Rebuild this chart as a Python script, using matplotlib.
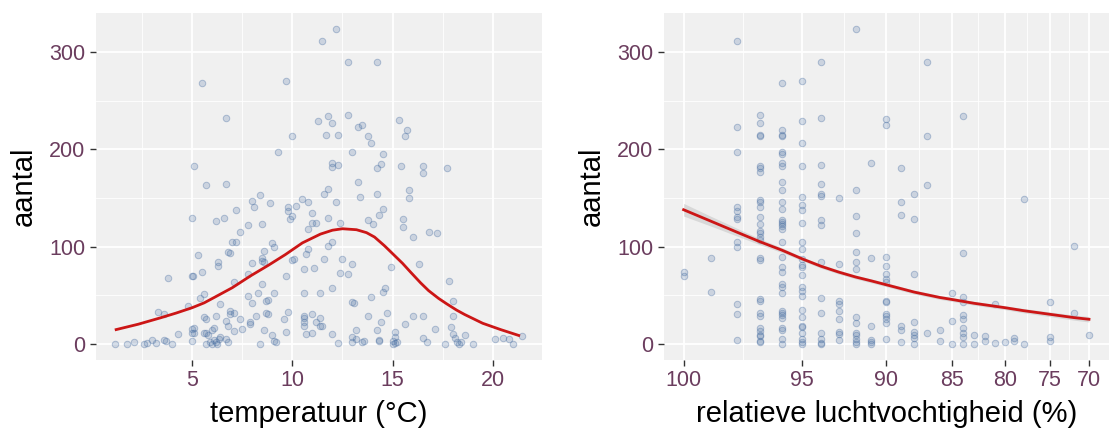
import numpy as np
import matplotlib
matplotlib.use("Agg")
import matplotlib.pyplot as plt
from matplotlib.ticker import FixedLocator

plt.rcParams['font.family'] = ['Liberation Sans', 'DejaVu Sans']

# --- linker paneel: temperatuur ---
temperatuur = [
    12.2, 11.5, 12.8, 14.2, 5.5, 9.7, 6.7, 11.3, 11.8, 12.0,
    12.8, 15.3, 15.7, 15.6, 13.3, 13.5, 11.7, 12.3, 13.8, 13.9,
    10.0, 9.3, 13.0, 14.5, 5.1, 12.0, 12.3, 12.0, 14.2, 14.4,
    15.4, 16.5, 16.5, 17.7, 5.7, 6.7, 13.3, 11.8, 11.6, 14.2,
    15.8, 15.8, 8.4, 8.0, 8.1, 8.9, 10.5, 10.8, 9.8, 10.2,
    9.8, 9.9, 10.0, 12.2, 13.4, 14.3, 14.5, 15.5, 15.5, 11.0,
    11.0, 11.2, 11.8, 5.0, 6.6, 7.2, 6.2, 13.8, 14.0, 16.0,
    16.8, 17.2, 7.8, 7.4, 7.0, 7.2, 8.5, 10.8, 12.4, 12.0,
    11.8, 9.0, 9.1, 6.8, 6.9, 5.3, 10.8, 10.7, 8.6, 8.5,
    8.5, 8.0, 8.6, 10.1, 10.0, 11.6, 12.5, 13.0, 16.3, 14.9,
    10.6, 11.1, 6.3, 6.3, 5.5, 5.0, 5.05, 3.8, 7.8, 9.7,
    12.4, 12.8, 17.8, 7.1, 8.5, 12.0, 14.6, 14.5, 10.6, 11.4,
    13.9, 5.6, 5.4, 7.8, 8.3, 9.1, 8.0, 8.7, 8.8, 6.4,
    13.0, 13.1, 18.0, 4.8, 7.1, 6.9, 6.9, 3.3, 3.6, 5.6,
    5.7, 6.2, 8.2, 8.7, 8.8, 9.8, 10.6, 10.6, 11.0, 11.4,
    13.8, 14.7, 16.0, 16.5, 18.0, 6.7, 6.8, 7.4, 7.5, 7.9,
    7.9, 9.6, 10.6, 10.6, 11.2, 11.4, 11.5, 14.4, 15.6, 17.9,
    4.3, 5.0, 5.1, 5.0, 5.1, 5.6, 5.7, 6.0, 6.1, 7.1,
    8.6, 9.0, 9.7, 10.7, 11.0, 12.0, 13.2, 14.2, 15.1, 17.1,
    18.6, 18.0, 18.1, 3.6, 3.7, 3.0, 3.2, 4.0, 2.1, 1.75,
    1.13, 2.6, 2.75, 5.0, 5.7, 5.9, 6.0, 6.1, 6.2, 6.25,
    6.35, 6.4, 6.8, 6.7, 8.4, 9.1, 9.2, 12.3, 13.0, 13.0,
    13.2, 13.5, 13.6, 14.3, 14.3, 15.0, 15.0, 15.1, 15.1, 15.2,
    16.5, 16.7, 17.6, 18.3, 18.4, 18.2, 19.0, 20.1, 20.5, 20.8,
    21.0, 21.44, 5.8,
]
aantal_t = [
    323, 311, 290, 290, 268, 270, 232, 229, 234, 227,
    235, 230, 220, 214, 223, 225, 215, 215, 214, 206,
    214, 197, 197, 195, 183, 186, 184, 182, 181, 185,
    183, 183, 176, 181, 163, 164, 166, 159, 154, 154,
    158, 150, 153, 147, 141, 145, 149, 146, 141, 142,
    137, 129, 132, 146, 151, 133, 139, 128, 120, 135,
    124, 124, 130, 130, 130, 138, 126, 127, 123, 110,
    115, 114, 122, 115, 105, 105, 123, 118, 124, 105,
    101, 104, 100, 95, 94, 92, 98, 93, 96, 88,
    85, 83, 84, 87, 86, 87, 87, 82, 82, 79,
    77, 78, 80, 84, 74, 70, 70, 68, 72, 70,
    73, 72, 65, 64, 62, 58, 58, 54, 53, 53,
    48, 52, 47, 49, 53, 53, 42, 44, 45, 41,
    43, 42, 44, 39, 32, 34, 31, 33, 31, 28,
    26, 29, 29, 32, 31, 33, 29, 27, 31, 27,
    29, 32, 29, 29, 29, 24, 19, 26, 16, 23,
    21, 26, 23, 19, 23, 19, 19, 23, 21, 18,
    10, 16, 17, 12, 12, 12, 11, 15, 17, 14,
    15, 9, 13, 10, 11, 10, 15, 15, 13, 16,
    9, 10, 6, 4, 3, 4, 1, 0, 2, 0,
    0, 0, 1, 3, 0, 2, 0, 4, 2, 0,
    5, 7, 2, 5, 0, 3, 2, 1, 7, 2,
    5, 2, 3, 4, 3, 3, 0, 7, 1, 2,
    6, 2, 0, 0, 2, 2, 0, 5, 6, 5,
    0, 8, 9,
]

# model curve
curve_temp = [1.2, 2.3, 3.4, 4.2, 5.0, 5.6, 6.1, 7.0, 7.9, 8.8, 9.65, 10.5, 11.0,
              11.4, 12.0, 12.5, 13.2, 13.7, 14.1, 14.6, 15.0, 15.5, 15.9, 16.4,
              16.8, 17.3, 17.7, 18.2, 18.6, 19.5, 20.4, 21.3]
curve_aantal_t = [15, 20.5, 27, 32, 37.5, 42.5, 48, 58, 70, 81, 92, 104, 109,
                  113, 117, 118.5, 117.5, 114.5, 110, 101, 93, 83, 74, 63,
                  55, 47, 41.5, 35, 30.5, 21.5, 15, 9]

# --- rechter paneel: relatieve luchtvochtigheid ---
rh_waarden = (
    [100, 100, 99, 99]
    + [98] * 12 + [97] * 28 + [96] * 32 + [95] * 25 + [94] * 15 + [93] * 9
    + [92] * 14 + [91] * 6 + [90] * 14 + [89] * 6 + [88] * 8 + [87] * 4
    + [86] * 2 + [85] * 3 + [84] * 10 + [83] * 2 + [82] * 2 + [81] * 2
    + [80] + [79] * 2 + [78] * 2 + [75] * 3 + [72] * 2 + [70]
)
aantal_rh = [
    74, 70, 88, 54,
    311, 223, 197, 141, 137, 131, 129, 105, 100, 41, 31, 4,
    235, 227, 215, 214, 183, 181, 177, 148, 146, 141, 131, 123, 116, 114,
    110, 107, 88, 86, 46, 44, 32, 29, 17, 14, 9, 8, 3, 2,
    268, 220, 215, 214, 197, 195, 186, 183, 166, 158, 146, 139, 127, 125,
    123, 121, 118, 105, 90, 79, 74, 62, 59, 53, 34, 32, 30, 27, 17, 15, 5, 0,
    270, 229, 206, 183, 151, 143, 138, 124, 105, 98, 87, 81, 79, 71, 59, 55,
    49, 35, 28, 19, 18, 11, 5, 2, 0,
    290, 232, 184, 164, 154, 152, 127, 122, 84, 47, 32, 12, 5, 1, 0,
    150, 82, 44, 41, 34, 26, 13, 10, 4,
    324, 158, 132, 114, 95, 84, 77, 28, 22, 11, 9, 5, 2, 0,
    186, 88, 19, 4, 2, 0,
    231, 225, 89, 80, 72, 67, 64, 44, 43, 31, 29, 26, 22, 5,
    181, 146, 133, 19, 15, 2,
    154, 129, 72, 23, 13, 9, 6, 0,
    290, 214, 163, 12,
    15, 3,
    53, 24, 0,
    234, 94, 48, 43, 30, 26, 17, 12, 7, 0,
    9, 0,
    8, 3,
    41, 1,
    2,
    6, 3,
    149, 0,
    43, 7, 3,
    101, 32,
    9,
]

curve_rh = [100, 99, 98, 97, 96, 95, 94, 93, 92, 91, 90, 88, 86, 85, 83, 80, 78, 75, 72, 70]
curve_aantal_rh = [138, 126, 115, 105, 96.5, 87.6, 80, 74, 69, 65, 61, 53.5, 48, 46, 42,
                   37.5, 34.4, 30.7, 27.3, 25.6]
band_breedte = [6.5, 5, 4, 3, 2.5, 2, 2, 2, 2, 2, 2, 2, 2, 2, 2, 2, 2.2, 2.4, 2.6, 2.8]

x_ticks_rh = [100, 95, 90, 85, 80, 75, 70]
x_ticks_t = [5, 10, 15, 20]
y_ticks = [0, 100, 200, 300]

tick_kleur = '#6B3D5E'
punt_vul = (0.29, 0.44, 0.64, 0.22)
punt_rand = (0.29, 0.44, 0.64, 0.38)
lijn_kleur = '#CC1616'


def stijl(ax):
    ax.set_facecolor('#F0F0F0')
    for s in ax.spines.values():
        s.set_visible(False)
    ax.grid(which='major', color='white', linewidth=1.3)
    ax.grid(which='minor', color='white', linewidth=0.6)
    ax.set_axisbelow(True)
    ax.tick_params(which='major', length=4.5, width=1.0, color='#333333',
                   labelsize=15.5, labelcolor=tick_kleur, pad=3)
    ax.tick_params(which='minor', length=0)
    ax.set_yticks(y_ticks)
    ax.yaxis.set_minor_locator(FixedLocator([50, 150, 250]))
    ax.set_ylim(-16.2, 340.2)
    ax.set_ylabel('aantal', fontsize=21, labelpad=8)


fig = plt.figure(figsize=(11.09, 4.34), dpi=100)
ax1 = fig.add_axes([0.0863, 0.1705, 0.4022, 0.8002])
ax2 = fig.add_axes([0.5987, 0.1705, 0.4013, 0.8002])

# links
stijl(ax1)
ax1.scatter(temperatuur, aantal_t, s=22, facecolor=punt_vul, edgecolor=punt_rand,
            linewidth=0.7, zorder=2)
ax1.plot(curve_temp, curve_aantal_t, color=lijn_kleur, linewidth=2.0, zorder=3,
         solid_joinstyle='round')
ax1.set_xlim(0.18, 22.45)
ax1.set_xticks(x_ticks_t)
ax1.xaxis.set_minor_locator(FixedLocator([2.5, 7.5, 12.5, 17.5]))
ax1.set_xlabel('temperatuur (°C)', fontsize=21, labelpad=6)

# rechts: as op -log(110 - RH), daarna omgedraaid
ax2.set_xscale('function', functions=(lambda x: -np.log(110 - np.asarray(x)),
                                      lambda y: 110 - np.exp(-np.asarray(y))))
stijl(ax2)
ax2.scatter(rh_waarden, aantal_rh, s=22, facecolor=punt_vul, edgecolor=punt_rand,
            linewidth=0.7, zorder=2)
onder = [c - b for c, b in zip(curve_aantal_rh, band_breedte)]
boven = [c + b for c, b in zip(curve_aantal_rh, band_breedte)]
ax2.fill_between(curve_rh, onder, boven, color='#BBBBBB', alpha=0.45, linewidth=0, zorder=2.5)
ax2.plot(curve_rh, curve_aantal_rh, color=lijn_kleur, linewidth=2.0, zorder=3,
         solid_joinstyle='round')
ax2.set_xlim(100.65, 67.17)
ax2.set_xticks(x_ticks_rh)
ax2.set_xticklabels([str(v) for v in x_ticks_rh])
minor_rh = [110 - np.sqrt((110 - a) * (110 - b)) for a, b in zip(x_ticks_rh[:-1], x_ticks_rh[1:])]
ax2.xaxis.set_minor_locator(FixedLocator(minor_rh))
ax2.set_xlabel('relatieve luchtvochtigheid (%)', fontsize=21, labelpad=6)

fig.savefig('out.png', dpi=100)
